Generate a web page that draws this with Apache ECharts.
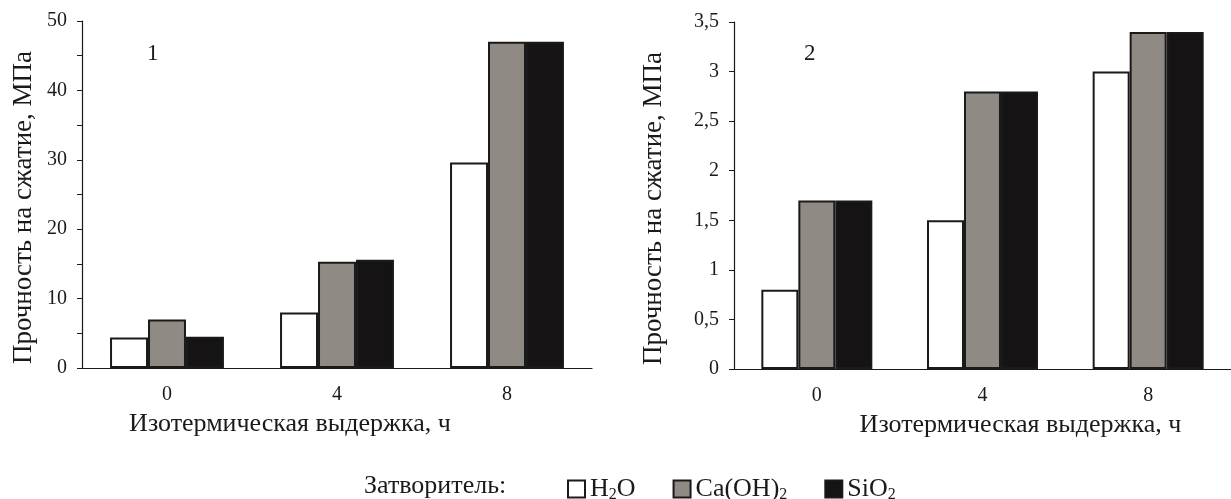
<!DOCTYPE html>
<html>
<head>
<meta charset="utf-8">
<script src="https://cdn.jsdelivr.net/npm/echarts@6/dist/echarts.min.js"></script>
<style>
  html, body { margin: 0; padding: 0; background: #fff; }
  #chart { width: 1231px; height: 499px; }
</style>
</head>
<body>
<div id="chart"></div>
<script>
// изотермическая выдержка, ч
const hours = ['0', '4', '8'];
const seriesNames = ['H2O', 'Ca(OH)2', 'SiO2'];

// панель 1, МПа
const panel1H2O = [4.4, 8.0, 29.6];
const panel1CaOH = [7.0, 15.3, 47.0];
const panel1SiO2 = [4.5, 15.6, 47.0];

// панель 2, МПа
const panel2H2O = [0.8, 1.5, 3.0];
const panel2CaOH = [1.7, 2.8, 3.4];
const panel2SiO2 = [1.7, 2.8, 3.4];

const FONT = "'Liberation Serif', 'DejaVu Serif', serif";
const INK = '#1a1a1a';
const fills = ['#ffffff', '#8f8a84', '#151313'];

const chart = echarts.init(document.getElementById('chart'));

function xAxisFor(idx, pad) {
  return {
    type: 'category',
    gridIndex: idx,
    data: hours,
    axisLine: { lineStyle: { color: INK, width: 1.2 } },
    axisTick: { length: 7, lineStyle: { color: INK } },
    axisLabel: { color: INK, fontFamily: FONT, fontSize: 20, margin: 17 },
    name: 'Изотермическая выдержка, ч',
    nameLocation: 'middle',
    nameGap: 43,
    nameTextStyle: { color: INK, fontFamily: FONT, fontSize: 26, padding: pad }
  };
}

function yAxisFor(idx, max, interval, fmt, gap) {
  return {
    type: 'value',
    gridIndex: idx,
    min: 0,
    max: max,
    interval: interval,
    splitLine: { show: false },
    axisLine: { show: true, lineStyle: { color: INK, width: 1.2 } },
    axisTick: { show: true, length: 5, lineStyle: { color: INK } },
    axisLabel: { color: INK, fontFamily: FONT, fontSize: 20, margin: 15, formatter: fmt },
    name: 'Прочность на сжатие, МПа',
    nameLocation: 'middle',
    nameGap: gap,
    nameTextStyle: { color: INK, fontFamily: FONT, fontSize: 27, padding: [0, 26, 0, 0] }
  };
}

function barSeries(name, data, idx, k) {
  return {
    name: name,
    type: 'bar',
    xAxisIndex: idx,
    yAxisIndex: idx,
    data: data,
    barGap: '0%',
    barCategoryGap: '33%',
    itemStyle: { color: fills[k], borderColor: INK, borderWidth: 2 },
    emphasis: { disabled: true }
  };
}

const option = {
  animation: false,
  textStyle: { fontFamily: FONT },
  grid: [
    { left: 82, top: 21, width: 510, height: 347 },
    { left: 734, top: 22, width: 497, height: 347 }
  ],
  xAxis: [xAxisFor(0, [0, 94, 0, 0]), xAxisFor(1, [0, 0, 0, 76])],
  yAxis: [
    yAxisFor(0, 50, 5, v => (v % 10 === 0 ? String(v) : ''), 45),
    yAxisFor(1, 3.5, 0.5, v => String(v).replace('.', ','), 67)
  ],
  legend: {
    data: seriesNames,
    left: 562,
    top: 471,
    icon: 'rect',
    itemWidth: 17,
    itemHeight: 17,
    itemGap: 37,
    selectedMode: false,
    formatter: function (name) {
      return name.replace(/(\d)/g, '{s|$1}').replace(/([^{}|s\d]+)(?=\{|$)/g, '{n|$1}');
    },
    textStyle: {
      color: INK,
      fontFamily: FONT,
      fontSize: 26,
      rich: {
        n: { fontFamily: FONT, fontSize: 26, lineHeight: 28, color: INK, verticalAlign: 'middle' },
        s: { fontFamily: FONT, fontSize: 16, lineHeight: 15, color: INK, verticalAlign: 'bottom' }
      }
    }
  },
  graphic: [
    { type: 'text', left: 147, top: 42, style: { text: '1', font: '23px ' + FONT, fill: INK } },
    { type: 'text', left: 804, top: 42, style: { text: '2', font: '23px ' + FONT, fill: INK } },
    { type: 'text', left: 364, top: 473, style: { text: 'Затворитель:', font: '26px ' + FONT, fill: INK } }
  ],
  series: [
    barSeries(seriesNames[0], panel1H2O, 0, 0),
    barSeries(seriesNames[1], panel1CaOH, 0, 1),
    barSeries(seriesNames[2], panel1SiO2, 0, 2),
    barSeries(seriesNames[0], panel2H2O, 1, 0),
    barSeries(seriesNames[1], panel2CaOH, 1, 1),
    barSeries(seriesNames[2], panel2SiO2, 1, 2)
  ]
};

chart.setOption(option);
</script>
</body>
</html>
